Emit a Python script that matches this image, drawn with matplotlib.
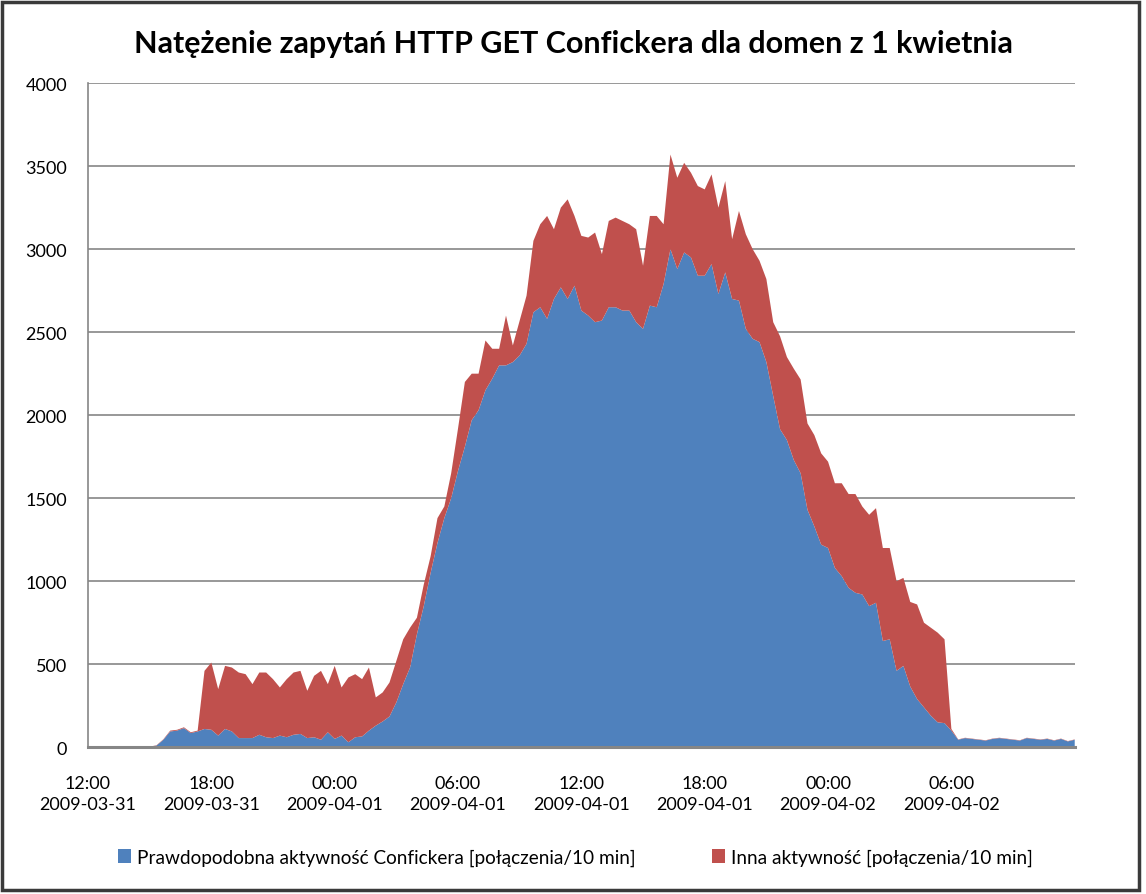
import numpy as np
import pandas as pd
import matplotlib
matplotlib.use("Agg")
import matplotlib.pyplot as plt
import matplotlib.dates as mdates
from matplotlib.patches import Patch, Rectangle

# -----------------------------------------------------------------------------
# Dane: co 20 minut od 2009-03-31 12:00 do 2009-04-02 12:00
# -----------------------------------------------------------------------------
czas = pd.date_range("2009-03-31 12:00", periods=145, freq="20min")

conficker = [
    0, 0, 0, 0, 0, 0, 0, 0, 0, 3,
    10, 45, 95, 100, 115, 85, 95, 110, 105, 70,
    110, 95, 55, 55, 55, 75, 60, 55, 70, 60,
    75, 80, 55, 60, 45, 90, 50, 70, 30, 60,
    65, 100, 130, 155, 185, 270, 380, 480, 680, 850,
    1050, 1230, 1380, 1500, 1665, 1810, 1970, 2030, 2150, 2220,
    2300, 2300, 2320, 2360, 2430, 2620, 2650, 2580, 2700, 2770,
    2700, 2780, 2630, 2600, 2560, 2570, 2650, 2650, 2630, 2630,
    2560, 2520, 2660, 2650, 2790, 3000, 2880, 2980, 2950, 2840,
    2840, 2910, 2730, 2860, 2700, 2690, 2520, 2460, 2440, 2320,
    2115, 1915, 1850, 1730, 1650, 1430, 1330, 1220, 1200, 1080,
    1030, 960, 930, 920, 850, 870, 640, 650, 460, 490,
    365, 290, 240, 190, 150, 145, 100, 45, 55, 50,
    45, 40, 50, 55, 50, 45, 40, 55, 50, 45,
    50, 40, 50, 35, 45,
]

inna = [
    0, 0, 0, 0, 0, 0, 0, 0, 0, 0,
    2, 3, 5, 5, 5, 5, 5, 350, 405, 280,
    380, 385, 395, 385, 325, 375, 390, 355, 290, 350,
    375, 380, 285, 370, 415, 290, 440, 290, 390, 380,
    345, 380, 170, 175, 205, 250, 270, 240, 100, 130,
    100, 150, 70, 150, 255, 390, 280, 220, 300, 180,
    100, 300, 100, 210, 290, 430, 500, 620, 420, 480,
    600, 420, 450, 470, 540, 400, 520, 540, 540, 520,
    560, 380, 540, 550, 360, 570, 550, 540, 510, 540,
    520, 540, 520, 550, 360, 540, 570, 540, 490, 500,
    445, 560, 500, 550, 565, 520, 550, 550, 520, 510,
    560, 565, 595, 530, 550, 570, 560, 550, 540, 530,
    510, 570, 510, 530, 540, 505, 10, 2, 2, 2,
    2, 2, 2, 2, 2, 2, 2, 2, 2, 2,
    2, 2, 2, 2, 2,
]

ticki = pd.date_range("2009-03-31 12:00", "2009-04-02 06:00", freq="6h")
etykiety = [t.strftime("%H:%M") + "\n" + t.strftime("%Y-%m-%d") for t in ticki]

tytul = "Natężenie zapytań HTTP GET Confickera dla domen z 1 kwietnia"
nazwy = ["Prawdopodobna aktywność Confickera [połączenia/10 min]",
         "Inna aktywność [połączenia/10 min]"]
kolory = ["#4F81BD", "#C0504D"]

# -----------------------------------------------------------------------------
# Wykres
# -----------------------------------------------------------------------------
plt.rcParams["font.family"] = ["Lato", "DejaVu Sans"]

fig = plt.figure(figsize=(11.46, 8.95), dpi=100)
ax = fig.add_axes([0.0768, 0.164, 0.861, 0.742])

ax.stackplot(czas, conficker, inna, colors=kolory, linewidth=0)

ax.set_ylim(0, 4000)
ax.set_yticks(range(0, 4001, 500))
ax.set_xlim(czas[0], czas[-1])
ax.set_xticks(ticki)
ax.set_xticklabels(etykiety, linespacing=1.35)

ax.grid(axis="y", color="#868686", linewidth=1.2)
ax.set_axisbelow(True)
for s in ["top", "right"]:
    ax.spines[s].set_visible(False)
ax.spines["left"].set_color("#868686")
ax.spines["left"].set_linewidth(1.2)
ax.spines["bottom"].set_color("#868686")
ax.spines["bottom"].set_linewidth(2.2)
ax.spines["bottom"].set_zorder(5)
ax.tick_params(axis="both", length=0, labelsize=13, colors="black")
ax.tick_params(axis="y", pad=15)
ax.tick_params(axis="x", pad=20)

fig.text(0.5, 0.951, tytul, ha="center", va="center",
         fontsize=22, fontweight="bold")

uchwyty = [Patch(facecolor=k, edgecolor="none") for k in kolory]
fig.legend(uchwyty, nazwy, loc="center", bbox_to_anchor=(0.502, 0.041),
           ncol=2, frameon=False, fontsize=13.7, handlelength=0.7,
           handleheight=0.7, handletextpad=0.3, columnspacing=4.0)

# ramka wokół całego obrazka
fig.patches.append(Rectangle((0.002, 0.004), 0.992, 0.993, transform=fig.transFigure,
                             fill=False, edgecolor="#3a3a3a", linewidth=2.5))

fig.savefig("out.png", dpi=100)
